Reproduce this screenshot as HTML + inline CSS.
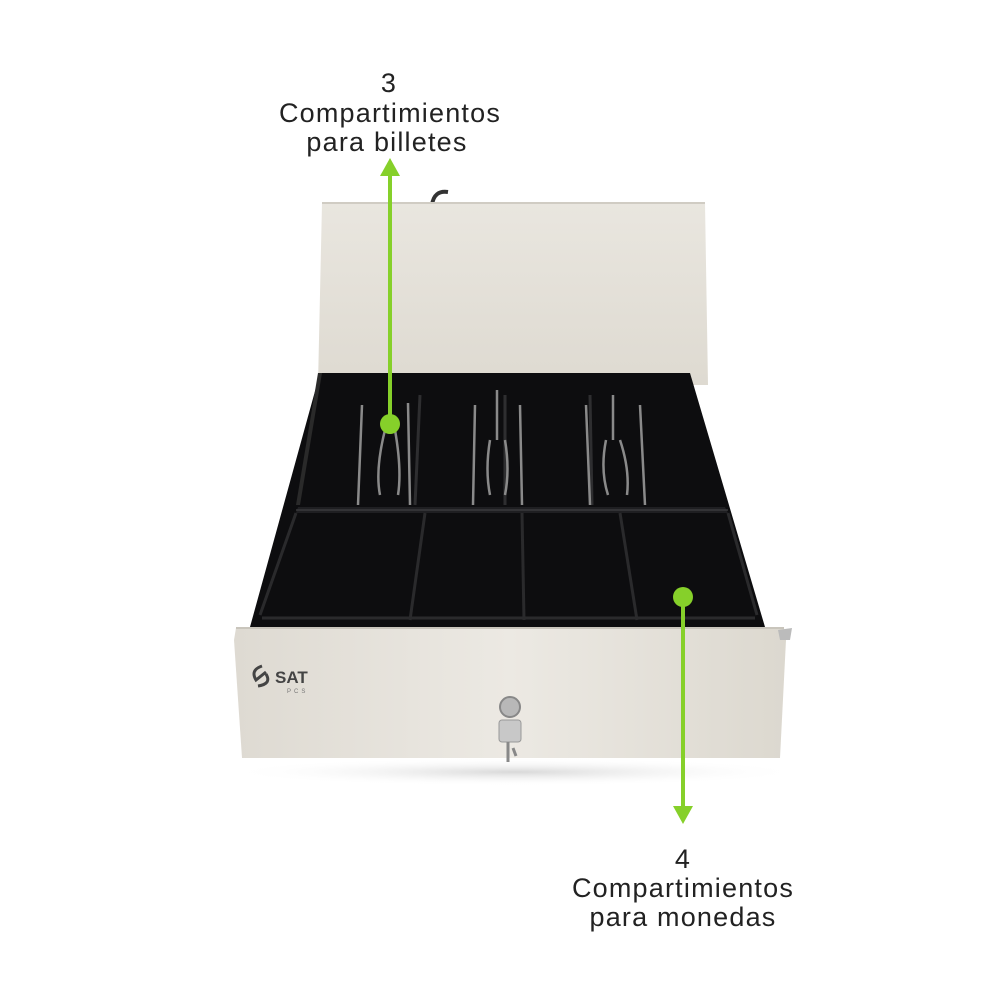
<!DOCTYPE html>
<html><head><meta charset="utf-8"><style>
html,body{margin:0;padding:0;background:#fff;width:1000px;height:1000px;overflow:hidden}
text{font-family:"Liberation Sans",sans-serif;fill:#222}
</style></head><body>
<svg width="1000" height="1000" viewBox="0 0 1000 1000" xmlns="http://www.w3.org/2000/svg">
<defs>
<linearGradient id="top" x1="0" y1="0" x2="0" y2="1"><stop offset="0" stop-color="#e9e6df"/><stop offset="1" stop-color="#dedad1"/></linearGradient>
<linearGradient id="front" x1="0" y1="0" x2="1" y2="0"><stop offset="0" stop-color="#dedad2"/><stop offset="0.5" stop-color="#ece9e3"/><stop offset="1" stop-color="#dcd8cf"/></linearGradient>
<radialGradient id="sh" cx="0.5" cy="0.5" r="0.5"><stop offset="0" stop-color="#d8d8d8"/><stop offset="1" stop-color="#fff" stop-opacity="0"/></radialGradient>
</defs>
<ellipse cx="515" cy="772" rx="290" ry="14" fill="url(#sh)"/>
<path d="M432 205 Q434 190 448 192" stroke="#333" stroke-width="4" fill="none"/>
<path d="M322 203 L705 203 L708 385 L318 385 Z" fill="url(#top)"/>
<path d="M322 203 L705 203" stroke="#d0ccc3" stroke-width="2"/>
<path d="M320 373 L690 373 L765 627 L250 627 Z" fill="#0d0d0f"/>
<path d="M318 373 L322 373 L300 505 L296 505 Z" fill="#2a2a2a"/>
<g stroke="#2e2e30" stroke-width="3">
<line x1="420" y1="395" x2="415" y2="505"/><line x1="505" y1="395" x2="505" y2="505"/><line x1="590" y1="395" x2="592" y2="505"/>
</g>
<g stroke="#8a8a8a" stroke-width="2.5" fill="none">
<path d="M362 405 L358 505 M408 403 L410 505 M385 430 Q375 470 380 495 M395 430 Q402 470 398 495"/>
<path d="M475 405 L473 505 M520 405 L522 505 M497 390 L497 440 M490 440 Q485 470 490 495 M505 440 Q510 470 505 495"/>
<path d="M586 405 L590 505 M640 405 L645 505 M613 395 L613 440 M606 440 Q600 470 608 495 M620 440 Q630 470 627 495"/>
</g>
<path d="M298 507 L725 507 L728 513 L296 513 Z" fill="#1f1f22"/>
<path d="M296 510 L728 510" stroke="#3a3a3c" stroke-width="1.5"/>
<g stroke="#2a2a2c" stroke-width="3">
<line x1="425" y1="513" x2="410" y2="620"/><line x1="522" y1="513" x2="524" y2="620"/><line x1="620" y1="513" x2="637" y2="620"/>
<line x1="262" y1="618" x2="755" y2="618"/>
</g>
<path d="M296 513 L260 615 M728 513 L757 615" stroke="#2a2a2c" stroke-width="3"/>
<path d="M236 628 L784 628 L786 640 L780 758 L242 758 L234 640 Z" fill="url(#front)"/>
<path d="M236 628 L784 628" stroke="#c9c5bc" stroke-width="2"/>
<path d="M778 630 L792 628 L790 640 L780 640 Z" fill="#bbb"/>
<path d="M262 666 Q250 670 256 680 L266 672 M258 686 Q272 684 266 674" stroke="#444" stroke-width="3" fill="none"/>
<text x="275" y="683" font-size="17" font-weight="bold" style="fill:#444">SAT</text>
<text x="287" y="693" font-size="6" style="fill:#777;letter-spacing:3px">PCS</text>
<circle cx="510" cy="707" r="10" fill="#b8b8b8" stroke="#888" stroke-width="2"/>
<rect x="499" y="720" width="22" height="22" rx="3" fill="#c8c8c8" stroke="#999"/>
<path d="M508 742 L508 762 M513 748 L516 756" stroke="#888" stroke-width="3"/>
<g fill="#86d02a" stroke="#86d02a">
<line x1="390" y1="424" x2="390" y2="172" stroke-width="4"/>
<path d="M380 176 L390 158 L400 176 Z" stroke="none"/>
<circle cx="390" cy="424" r="10" stroke="none"/>
<line x1="683" y1="597" x2="683" y2="810" stroke-width="4"/>
<path d="M673 806 L683 824 L693 806 Z" stroke="none"/>
<circle cx="683" cy="597" r="10" stroke="none"/>
</g>
<g text-anchor="middle" font-size="27" style="letter-spacing:1.2px">
<text x="389" y="92">3</text>
<text x="390" y="122">Compartimientos</text>
<text x="387" y="151">para billetes</text>
<text x="683" y="868">4</text>
<text x="683" y="897">Compartimientos</text>
<text x="683" y="926">para monedas</text>
</g>
</svg>
</body></html>
